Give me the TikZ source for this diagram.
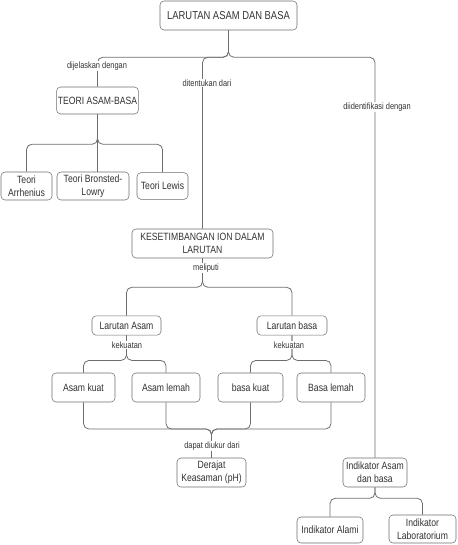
\documentclass[tikz,border=0pt]{standalone}
\usepackage{fontspec}
\setmainfont{Liberation Sans}[FakeStretch=0.82]
\usepackage{xcolor}
\usepackage{tikz}
\usetikzlibrary{calc}

\definecolor{txtgray}{HTML}{333333}
\definecolor{linegray}{HTML}{6E6E6E}

\begin{document}
\begin{tikzpicture}[
  x=0.75pt, y=-0.75pt,
  box/.style={rectangle, draw=linegray, fill=white, rounded corners=3pt, align=center,
    text=txtgray, inner sep=1pt, font=\fontsize{7.9}{9.6}\selectfont},
  link/.style={draw=linegray, line width=0.6pt, rounded corners=4pt},
  lbl/.style={fill=white, text=txtgray, inner sep=0.5pt, font=\fontsize{6.8}{8}\selectfont}
]
  \useasboundingbox (0,0) rectangle (457,545);

  % boxes
  \node[box, minimum width=102.75pt, minimum height=21.75pt, font=\fontsize{8.6}{10}\selectfont] (top) at (228.5,15.5) {LARUTAN ASAM DAN BASA};
  \node[box, minimum width=60.75pt, minimum height=20.25pt] (tab) at (97.5,100.5) {TEORI ASAM-BASA};
  \node[box, minimum width=38.25pt, minimum height=21pt] (arr) at (26.5,186) {Teori\\Arrhenius};
  \node[box, minimum width=54pt, minimum height=21pt] (bro) at (93,186) {Teori Bronsted-\\Lowry};
  \node[box, minimum width=38.25pt, minimum height=20pt] (lew) at (162.5,186) {Teori Lewis};
  \node[box, minimum width=105.75pt, minimum height=21.75pt] (kes) at (202.5,243.5) {KESETIMBANGAN ION DALAM\\LARUTAN};
  \node[box, minimum width=51.75pt, minimum height=14.5pt] (las) at (126.5,325.5) {Larutan Asam};
  \node[box, minimum width=52.5pt, minimum height=14.5pt] (lba) at (292,325.5) {Larutan basa};
  \node[box, minimum width=47.25pt, minimum height=21.75pt] (ak) at (83.5,387.5) {Asam kuat};
  \node[box, minimum width=51pt, minimum height=21.75pt] (al) at (166,387.5) {Asam lemah};
  \node[box, minimum width=48.75pt, minimum height=21.75pt] (bk) at (250.5,387.5) {basa kuat};
  \node[box, minimum width=51pt, minimum height=21.75pt] (bl) at (331,387.5) {Basa lemah};
  \node[box, minimum width=51.75pt, minimum height=21.75pt] (ph) at (211.5,472.5) {Derajat\\Keasaman (pH)};
  \node[box, minimum width=48pt, minimum height=21.75pt] (ind) at (375,472.5) {Indikator Asam\\dan basa};
  \node[box, minimum width=49.5pt, minimum height=19.5pt] (ina) at (330,530) {Indikator Alami};
  \node[box, minimum width=50.25pt, minimum height=21pt] (inl) at (422.5,529) {Indikator\\Laboratorium};

  % connectors
  \draw[link] (top.south) -- ++(0,27) -| (tab.north);
  \draw[link] (top.south) -- ++(0,27) -| (kes.north);
  \draw[link] (top.south) -- ++(0,27) -| (ind.north);

  \draw[link] (tab.south) -- ++(0,30) -| (arr.north);
  \draw[link] (tab.south) -- (tab.south |- bro.north);
  \draw[link] (tab.south) -- ++(0,30) -| (lew.north);

  \draw[link] (kes.south) -- ++(0,29) -| (las.north);
  \draw[link] (kes.south) -- ++(0,29) -| (lba.north);

  \draw[link] (las.south) -- ++(0,25) -| (ak.north);
  \draw[link] (las.south) -- ++(0,25) -| (al.north);
  \draw[link] (lba.south) -- ++(0,25) -| (bk.north);
  \draw[link] (lba.south) -- ++(0,25) -| (bl.north);

  \coordinate (mrg) at (211.5,429);
  \foreach \src in {ak,al,bk,bl}
    \draw[link] (\src.south) |- (mrg) -- (ph.north);

  \draw[link] (ind.south) -- ++(0,11) -| (ina.north);
  \draw[link] (ind.south) -- ++(0,11) -| (inl.north);

  % labels
  \node[lbl] (ldij) at (97,66) {dijelaskan dengan};
  \node[lbl] (ldit) at (207,83) {ditentukan dari};
  \node[lbl] (lidt) at (377,107) {diidentifikasi dengan};
  \node[lbl] (lmel) at (206,268) {meliputi};
  \node[lbl] (lkk1) at (127,345) {kekuatan};
  \node[lbl] (lkk2) at (289,345) {kekuatan};
  \node[lbl] (lukr) at (212,446) {dapat diukur dari};
\end{tikzpicture}
\end{document}
